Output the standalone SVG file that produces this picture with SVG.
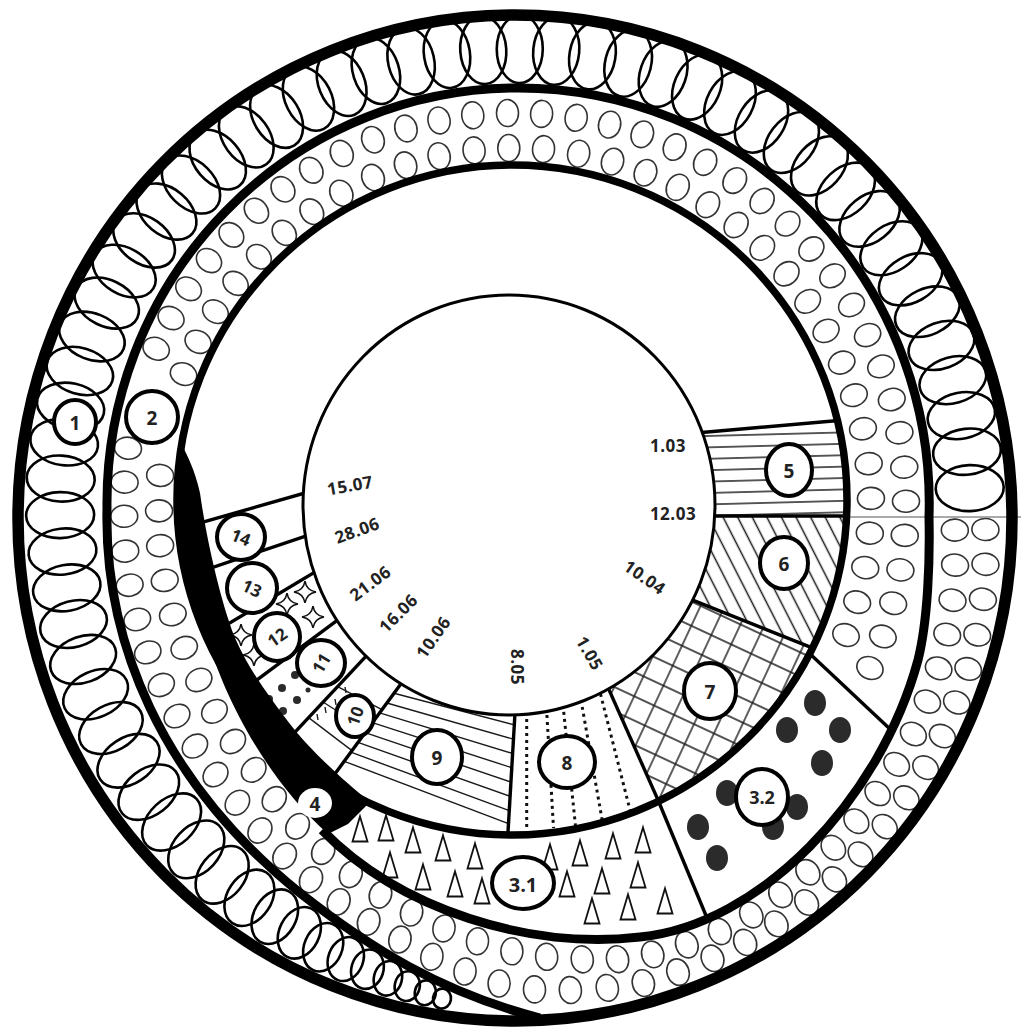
<svg xmlns="http://www.w3.org/2000/svg" width="1021" height="1032" viewBox="0 0 1021 1032">
<defs>
<style>
.r1{fill:none;stroke:#000;stroke-width:2.6}
.r2{fill:none;stroke:#333;stroke-width:1.6}
.thick{fill:none;stroke:#000}
.rad{stroke:#000;stroke-width:3.4;fill:none}
.hat{stroke:#1a1a1a;stroke-width:1.4;fill:none}
.dot{fill:#2b2b2b}
.tri{fill:none;stroke:#111;stroke-width:1.8}
.star{fill:none;stroke:#111;stroke-width:1.6}
.lc{fill:#fff;stroke:#000;stroke-width:4}
.lt{font-family:"Open Sans","Liberation Sans",Arial,sans-serif;font-weight:700;font-size:19px;fill:#222;text-anchor:middle;dominant-baseline:central}
.ls{font-size:17px}
.dt{font-family:"Open Sans","Liberation Sans",Arial,sans-serif;font-weight:700;font-size:17px;fill:#222;text-anchor:middle;dominant-baseline:central;letter-spacing:0.5px}
</style>
<ellipse id="e1" cx="515" cy="49" rx="23" ry="34"/>
<ellipse id="a1" cx="515" cy="148" rx="11" ry="13.5"/>
<ellipse id="a2" cx="515" cy="113" rx="11" ry="13.5"/>
<ellipse id="c2" cx="515" cy="504" rx="11" ry="13.5"/>
<path id="tri" d="M0 -12.5 L7.5 12.5 L-7.5 12.5 Z"/>
<path id="star" d="M0 -11 Q1.5 -1.5 11 0 Q1.5 1.5 0 11 Q-1.5 1.5 -11 0 Q-1.5 -1.5 0 -11 Z"/>
<pattern id="p5" patternUnits="userSpaceOnUse" x="0" y="442" width="60" height="11.4" patternTransform="rotate(-1.5)"><line x1="0" y1="1" x2="60" y2="1" class="hat"/></pattern>
<pattern id="p6" patternUnits="userSpaceOnUse" width="40" height="13" patternTransform="rotate(63)"><line x1="0" y1="6.5" x2="40" y2="6.5" class="hat"/></pattern>
<pattern id="p7" patternUnits="userSpaceOnUse" width="22" height="22" patternTransform="rotate(25)"><path d="M0 11 H22 M11 0 V22" class="hat"/></pattern>
<clipPath id="ann"><path clip-rule="evenodd" d="M847 500 A335 335 0 1 0 177 500 A335 335 0 1 0 847 500 Z M715 505 A206 210 0 1 0 303 505 A206 210 0 1 0 715 505 Z"/></clipPath>
<clipPath id="w8"><polygon points="595.6,659.6 672.4,832.4 505.9,867.7 517.1,677.3"/></clipPath>
<clipPath id="w9"><polygon points="517.1,677.3 505.9,867.7 322,791.6 418,660.4"/></clipPath>
<clipPath id="w10"><polygon points="418,660.4 322,791.6 279.6,748.6 372.4,649.4"/></clipPath>
</defs>
<rect width="1021" height="1032" fill="#fff"/>

<g id="ring1" class="r1">
<use href="#e1" transform="rotate(88 515 504)"/>
<use href="#e1" transform="rotate(83.4 515 504)"/>
<use href="#e1" transform="rotate(78.8 515 504)"/>
<use href="#e1" transform="rotate(74.2 515 504)"/>
<use href="#e1" transform="rotate(69.6 515 504)"/>
<use href="#e1" transform="rotate(65 515 504)"/>
<use href="#e1" transform="rotate(60.4 515 504)"/>
<use href="#e1" transform="rotate(55.8 515 504)"/>
<use href="#e1" transform="rotate(51.2 515 504)"/>
<use href="#e1" transform="rotate(46.6 515 504)"/>
<use href="#e1" transform="rotate(42 515 504)"/>
<use href="#e1" transform="rotate(37.4 515 504)"/>
<use href="#e1" transform="rotate(32.8 515 504)"/>
<use href="#e1" transform="rotate(28.2 515 504)"/>
<use href="#e1" transform="rotate(23.6 515 504)"/>
<use href="#e1" transform="rotate(19 515 504)"/>
<use href="#e1" transform="rotate(14.4 515 504)"/>
<use href="#e1" transform="rotate(9.8 515 504)"/>
<use href="#e1" transform="rotate(5.2 515 504)"/>
<use href="#e1" transform="rotate(0.6 515 504)"/>
<use href="#e1" transform="rotate(-4 515 504)"/>
<use href="#e1" transform="rotate(-8.6 515 504)"/>
<use href="#e1" transform="rotate(-13.2 515 504)"/>
<use href="#e1" transform="rotate(-17.8 515 504)"/>
<use href="#e1" transform="rotate(-22.4 515 504)"/>
<use href="#e1" transform="rotate(-27 515 504)"/>
<use href="#e1" transform="rotate(-31.6 515 504)"/>
<use href="#e1" transform="rotate(-36.2 515 504)"/>
<use href="#e1" transform="rotate(-40.8 515 504)"/>
<use href="#e1" transform="rotate(-45.4 515 504)"/>
<use href="#e1" transform="rotate(-50 515 504)"/>
<use href="#e1" transform="rotate(-54.6 515 504)"/>
<use href="#e1" transform="rotate(-59.2 515 504)"/>
<use href="#e1" transform="rotate(-63.8 515 504)"/>
<use href="#e1" transform="rotate(-68.4 515 504)"/>
<use href="#e1" transform="rotate(-73 515 504)"/>
<use href="#e1" transform="rotate(-77.6 515 504)"/>
<use href="#e1" transform="rotate(-82.2 515 504)"/>
<use href="#e1" transform="rotate(-86.8 515 504)"/>
<use href="#e1" transform="rotate(-91.4 515 504)"/>
<use href="#e1" transform="rotate(-96 515 504)"/>
<use href="#e1" transform="rotate(-100.6 515 504) translate(0 -1)"/>
<use href="#e1" transform="rotate(-105.2 515 504) translate(0 -2.5)"/>
<use href="#e1" transform="rotate(-109.8 515 504) translate(0 -4)"/>
<use href="#e1" transform="rotate(-114.4 515 504) translate(0 -5.5)"/>
<use href="#e1" transform="rotate(-119 515 504) translate(0 -7)"/>
<use href="#e1" transform="rotate(-123.6 515 504) translate(0 -9)"/>
<use href="#e1" transform="rotate(-128.2 515 504) translate(0 -11)"/>
<use href="#e1" transform="rotate(-132.8 515 504) translate(0 -13)"/>
<ellipse cx="515" cy="34" rx="23" ry="33" transform="rotate(-137.3 515 504)"/>
<ellipse cx="515" cy="31.5" rx="22.5" ry="32" transform="rotate(-141.7 515 504)"/>
<ellipse cx="515" cy="29" rx="22" ry="30.5" transform="rotate(-146 515 504)"/>
<ellipse cx="515" cy="26.5" rx="21" ry="29" transform="rotate(-149.8 515 504)"/>
<ellipse cx="515" cy="24" rx="20" ry="27" transform="rotate(-153.3 515 504)"/>
<ellipse cx="515" cy="21" rx="19" ry="25" transform="rotate(-156.6 515 504)"/>
<ellipse cx="515" cy="18.5" rx="17.5" ry="22.5" transform="rotate(-159.6 515 504)"/>
<ellipse cx="515" cy="16" rx="16" ry="20" transform="rotate(-162.4 515 504)"/>
<ellipse cx="515" cy="13" rx="14" ry="17.5" transform="rotate(-165 515 504)"/>
<ellipse cx="515" cy="10" rx="12.5" ry="15" transform="rotate(-167.4 515 504)"/>
<ellipse cx="515" cy="7" rx="10.5" ry="12.5" transform="rotate(-169.6 515 504)"/>
<ellipse cx="515" cy="4" rx="9" ry="10" transform="rotate(-171.6 515 504)"/>
</g>

<g id="ring2" class="r2">
<use href="#a1" transform="rotate(111.6 515 504)"/>
<use href="#a1" transform="rotate(106 515 504)"/>
<use href="#a1" transform="rotate(100.3 515 504)"/>
<use href="#a1" transform="rotate(94.7 515 504)"/>
<use href="#a1" transform="rotate(89.1 515 504)"/>
<use href="#a1" transform="rotate(83.5 515 504)"/>
<use href="#a1" transform="rotate(77.8 515 504)"/>
<use href="#a1" transform="rotate(72.2 515 504)"/>
<use href="#a1" transform="rotate(66.6 515 504)"/>
<use href="#a1" transform="rotate(60.9 515 504)"/>
<use href="#a1" transform="rotate(55.3 515 504)"/>
<use href="#a1" transform="rotate(49.7 515 504)"/>
<use href="#a1" transform="rotate(44 515 504)"/>
<use href="#a1" transform="rotate(38.4 515 504)"/>
<use href="#a1" transform="rotate(32.8 515 504)"/>
<use href="#a1" transform="rotate(27.2 515 504)"/>
<use href="#a1" transform="rotate(21.5 515 504)"/>
<use href="#a1" transform="rotate(15.9 515 504)"/>
<use href="#a1" transform="rotate(10.3 515 504)"/>
<use href="#a1" transform="rotate(4.6 515 504)"/>
<use href="#a1" transform="rotate(-1 515 504)"/>
<use href="#a1" transform="rotate(-6.6 515 504)"/>
<use href="#a1" transform="rotate(-12.3 515 504)"/>
<use href="#a1" transform="rotate(-17.9 515 504)"/>
<use href="#a1" transform="rotate(-23.5 515 504)"/>
<use href="#a1" transform="rotate(-29.2 515 504)"/>
<use href="#a1" transform="rotate(-34.8 515 504)"/>
<use href="#a1" transform="rotate(-40.4 515 504)"/>
<use href="#a1" transform="rotate(-46 515 504)"/>
<use href="#a1" transform="rotate(-51.7 515 504)"/>
<use href="#a1" transform="rotate(-57.3 515 504)"/>
<use href="#a1" transform="rotate(-62.9 515 504)"/>
<use href="#a1" transform="rotate(-68.6 515 504)"/>
<use href="#a1" transform="rotate(-85.4 515 504)"/>
<use href="#a1" transform="rotate(-91.1 515 504)"/>
<use href="#c2" transform="rotate(-96.7 515 504) translate(0 -357.3)"/>
<use href="#c2" transform="rotate(-102.3 515 504) translate(0 -358.5)"/>
<use href="#c2" transform="rotate(-107.9 515 504) translate(0 -359.6)"/>
<use href="#c2" transform="rotate(-113.5 515 504) translate(0 -360.7)"/>
<use href="#c2" transform="rotate(-119.1 515 504) translate(0 -361.8)"/>
<use href="#c2" transform="rotate(-124.6 515 504) translate(0 -365.1)"/>
<use href="#c2" transform="rotate(-130.1 515 504) translate(0 -368.7)"/>
<use href="#c2" transform="rotate(-135.5 515 504) translate(0 -372.8)"/>
<use href="#c2" transform="rotate(-140.8 515 504) translate(0 -380.9)"/>
<use href="#c2" transform="rotate(-146 515 504) translate(0 -388.8)"/>
<use href="#c2" transform="rotate(-151.1 515 504) translate(0 -396.8)"/>
<use href="#c2" transform="rotate(-156.1 515 504) translate(0 -405.2)"/>
<use href="#c2" transform="rotate(-161 515 504) translate(0 -413.3)"/>
<use href="#c2" transform="rotate(-165.8 515 504) translate(0 -421.5)"/>
<use href="#c2" transform="rotate(-170.5 515 504) translate(0 -430.3)"/>
<use href="#c2" transform="rotate(-175.1 515 504) translate(0 -438.9)"/>
<use href="#c2" transform="rotate(-179.6 515 504) translate(0 -447.3)"/>
<use href="#c2" transform="rotate(-184 515 504) translate(0 -453.9)"/>
<use href="#c2" transform="rotate(-188.4 515 504) translate(0 -460.3)"/>
<use href="#c2" transform="rotate(-192.7 515 504) translate(0 -466.6)"/>
<use href="#c2" transform="rotate(-197 515 504) translate(0 -471)"/>
<use href="#c2" transform="rotate(-201.3 515 504) translate(0 -473)"/>
<use href="#c2" transform="rotate(-205.6 515 504) translate(0 -474)"/>
<use href="#c2" transform="rotate(-209.9 515 504) translate(0 -474)"/>
<use href="#c2" transform="rotate(-214.2 515 504) translate(0 -472.5)"/>
<use href="#c2" transform="rotate(-218.5 515 504) translate(0 -470.5)"/>
<use href="#c2" transform="rotate(-222.8 515 504) translate(0 -468.5)"/>
<use href="#c2" transform="rotate(-227.1 515 504) translate(0 -466)"/>
<use href="#c2" transform="rotate(-231.4 515 504) translate(0 -464)"/>
<use href="#c2" transform="rotate(-235.7 515 504) translate(0 -462)"/>
<use href="#c2" transform="rotate(-240 515 504) translate(0 -460)"/>
<use href="#c2" transform="rotate(-244.4 515 504) translate(0 -457.3)"/>
<use href="#c2" transform="rotate(-248.8 515 504) translate(0 -454.4)"/>
<use href="#c2" transform="rotate(-253.2 515 504) translate(0 -451.5)"/>
<use href="#c2" transform="rotate(-257.6 515 504) translate(0 -448)"/>
<use href="#c2" transform="rotate(-262.1 515 504) translate(0 -444.3)"/>
<use href="#c2" transform="rotate(-266.6 515 504) translate(0 -440.6)"/>

<use href="#a2" transform="rotate(114.8 515 504)"/>
<use href="#a2" transform="rotate(109.8 515 504)"/>
<use href="#a2" transform="rotate(104.7 515 504)"/>
<use href="#a2" transform="rotate(99.7 515 504)"/>
<use href="#a2" transform="rotate(94.6 515 504)"/>
<use href="#a2" transform="rotate(89.6 515 504)"/>
<use href="#a2" transform="rotate(84.6 515 504)"/>
<use href="#a2" transform="rotate(79.5 515 504)"/>
<use href="#a2" transform="rotate(74.5 515 504)"/>
<use href="#a2" transform="rotate(69.4 515 504)"/>
<use href="#a2" transform="rotate(64.4 515 504)"/>
<use href="#a2" transform="rotate(59.4 515 504)"/>
<use href="#a2" transform="rotate(54.3 515 504)"/>
<use href="#a2" transform="rotate(49.3 515 504)"/>
<use href="#a2" transform="rotate(44.2 515 504)"/>
<use href="#a2" transform="rotate(39.2 515 504)"/>
<use href="#a2" transform="rotate(34.2 515 504)"/>
<use href="#a2" transform="rotate(29.1 515 504)"/>
<use href="#a2" transform="rotate(24.1 515 504)"/>
<use href="#a2" transform="rotate(19 515 504)"/>
<use href="#a2" transform="rotate(14 515 504)"/>
<use href="#a2" transform="rotate(9 515 504)"/>
<use href="#a2" transform="rotate(3.9 515 504)"/>
<use href="#a2" transform="rotate(-1.1 515 504)"/>
<use href="#a2" transform="rotate(-6.2 515 504)"/>
<use href="#a2" transform="rotate(-11.2 515 504)"/>
<use href="#a2" transform="rotate(-16.2 515 504)"/>
<use href="#a2" transform="rotate(-21.3 515 504)"/>
<use href="#a2" transform="rotate(-26.3 515 504)"/>
<use href="#a2" transform="rotate(-31.4 515 504)"/>
<use href="#a2" transform="rotate(-36.4 515 504)"/>
<use href="#a2" transform="rotate(-41.4 515 504)"/>
<use href="#a2" transform="rotate(-46.5 515 504)"/>
<use href="#a2" transform="rotate(-51.5 515 504)"/>
<use href="#a2" transform="rotate(-56.6 515 504)"/>
<use href="#a2" transform="rotate(-61.6 515 504)"/>
<use href="#a2" transform="rotate(-66.6 515 504)"/>
<use href="#a2" transform="rotate(-81.8 515 504)"/>
<use href="#a2" transform="rotate(-86.8 515 504)"/>
<use href="#a2" transform="rotate(-91.8 515 504)"/>
<use href="#c2" transform="rotate(-96.9 515 504) translate(0 -392.6)"/>
<use href="#c2" transform="rotate(-101.9 515 504) translate(0 -393.8)"/>
<use href="#c2" transform="rotate(-107 515 504) translate(0 -395)"/>
<use href="#c2" transform="rotate(-112 515 504) translate(0 -396.1)"/>
<use href="#c2" transform="rotate(-117.1 515 504) translate(0 -397.3)"/>
<use href="#c2" transform="rotate(-122.1 515 504) translate(0 -399)"/>
<use href="#c2" transform="rotate(-127.1 515 504) translate(0 -401.3)"/>
<use href="#c2" transform="rotate(-132.1 515 504) translate(0 -403.6)"/>
<use href="#c2" transform="rotate(-137.1 515 504) translate(0 -407.8)"/>
<use href="#c2" transform="rotate(-142 515 504) translate(0 -414.3)"/>
<use href="#c2" transform="rotate(-146.8 515 504) translate(0 -420.7)"/>
<use href="#c2" transform="rotate(-151.5 515 504) translate(0 -427.5)"/>
<use href="#c2" transform="rotate(-156.1 515 504) translate(0 -435.2)"/>
<use href="#c2" transform="rotate(-160.7 515 504) translate(0 -442.8)"/>
<use href="#c2" transform="rotate(-165.2 515 504) translate(0 -450.5)"/>
<use href="#c2" transform="rotate(-169.6 515 504) translate(0 -460.4)"/>
<use href="#c2" transform="rotate(-173.9 515 504) translate(0 -470.2)"/>
<use href="#c2" transform="rotate(-178.1 515 504) translate(0 -479.7)"/>
<use href="#c2" transform="rotate(-182.3 515 504) translate(0 -485.8)"/>
<use href="#c2" transform="rotate(-186.5 515 504) translate(0 -489.2)"/>
<use href="#c2" transform="rotate(-190.8 515 504) translate(0 -492.6)"/>
<use href="#c2" transform="rotate(-195 515 504) translate(0 -496)"/>
<use href="#c2" transform="rotate(-199.2 515 504) translate(0 -495.7)"/>
<use href="#c2" transform="rotate(-203.5 515 504) translate(0 -495.4)"/>
<use href="#c2" transform="rotate(-207.7 515 504) translate(0 -495.2)"/>
<use href="#c2" transform="rotate(-211.9 515 504) translate(0 -494.6)"/>
<use href="#c2" transform="rotate(-216.2 515 504) translate(0 -493.8)"/>
<use href="#c2" transform="rotate(-220.4 515 504) translate(0 -492.9)"/>
<use href="#c2" transform="rotate(-224.6 515 504) translate(0 -492.1)"/>
<use href="#c2" transform="rotate(-228.9 515 504) translate(0 -490.7)"/>
<use href="#c2" transform="rotate(-233.1 515 504) translate(0 -489.4)"/>
<use href="#c2" transform="rotate(-237.3 515 504) translate(0 -488)"/>
<use href="#c2" transform="rotate(-241.5 515 504) translate(0 -486.3)"/>
<use href="#c2" transform="rotate(-245.8 515 504) translate(0 -484.3)"/>
<use href="#c2" transform="rotate(-250 515 504) translate(0 -482.3)"/>
<use href="#c2" transform="rotate(-254.2 515 504) translate(0 -480.4)"/>
<use href="#c2" transform="rotate(-258.5 515 504) translate(0 -477.5)"/>
<use href="#c2" transform="rotate(-262.7 515 504) translate(0 -474.3)"/>
<use href="#c2" transform="rotate(-266.9 515 504) translate(0 -471.1)"/>
</g>

<g id="segments" clip-path="url(#ann)">
<polygon id="seg5" points="670.5,435.3 870.5,417.7 885.5,516 685.5,516" fill="url(#p5)"/>
<polygon id="seg6" points="685.5,516 885.5,516 843,660.2 667,589.8" fill="url(#p6)"/>
<polygon id="seg7" points="667,589.8 843,660.2 672.4,832.4 595.6,659.6" fill="url(#p7)"/>
<g id="seg8" clip-path="url(#w8)" stroke="#111" stroke-width="3" stroke-dasharray="3 4" fill="none">
<line x1="526.7" y1="712" x2="526.7" y2="828"/>
<line x1="546.5" y1="708" x2="553.5" y2="828"/>
<line x1="563" y1="705" x2="575.5" y2="826"/>
<line x1="581" y1="700" x2="602.5" y2="822"/>
<line x1="600.5" y1="694" x2="631" y2="814"/>
</g>
<g id="seg9" clip-path="url(#w9)" class="hat">
<line x1="394" y1="693.2" x2="514.3" y2="724.9"/>
<line x1="386.8" y1="703" x2="513.5" y2="739.2"/>
<line x1="379.6" y1="712.9" x2="512.6" y2="753.5"/>
<line x1="372.4" y1="722.7" x2="511.8" y2="767.7"/>
<line x1="365.2" y1="732.6" x2="510.9" y2="782"/>
<line x1="358" y1="742.4" x2="510.1" y2="796.3"/>
<line x1="350.8" y1="752.2" x2="509.3" y2="810.6"/>
<line x1="344.2" y1="761.3" x2="508.5" y2="823.7"/>
</g>
<g id="seg10" clip-path="url(#w10)" class="hat">
<line x1="337.6" y1="686.6" x2="382" y2="709.6"/>
<line x1="323" y1="702" x2="367" y2="730"/>
<line x1="308.6" y1="717.6" x2="352" y2="750.6"/>
<line x1="317" y1="714" x2="318" y2="720"/>
<line x1="325" y1="707" x2="326" y2="713"/>
<line x1="335" y1="699" x2="336" y2="705"/>
<line x1="345" y1="687" x2="346" y2="693"/>
</g>
<g id="seg11" class="dot">
<circle cx="295" cy="675" r="4"/>
<circle cx="282" cy="688" r="4"/>
<circle cx="297" cy="700" r="4"/>
<circle cx="269" cy="699" r="4"/>
<circle cx="283" cy="711" r="4"/>
<circle cx="308" cy="690" r="2.5"/>
</g>
<g id="seg12" class="star">
<use href="#star" x="305" y="592"/>
<use href="#star" x="287" y="604"/>
<use href="#star" x="313" y="617"/>
<use href="#star" x="241" y="635"/>
<use href="#star" x="254" y="655"/>
</g>
<g id="radials" class="rad">
<line x1="670.5" y1="435.3" x2="870.5" y2="417.7"/>
<line x1="685.5" y1="516" x2="885.5" y2="516"/>
<line x1="667" y1="589.8" x2="843" y2="660.2"/>
<line x1="595.6" y1="659.6" x2="672.4" y2="832.4"/>
<line x1="517.1" y1="677.3" x2="505.9" y2="867.7"/>
<line x1="418" y1="660.4" x2="322" y2="791.6"/>
<line x1="372.4" y1="649.4" x2="279.6" y2="748.6"/>
<line x1="358.4" y1="604.6" x2="233.6" y2="697.4"/>
<line x1="336.1" y1="559.4" x2="196.9" y2="642.6"/>
<line x1="332.4" y1="527.1" x2="175.6" y2="579.9"/>
<line x1="336.5" y1="484" x2="168.5" y2="532"/>
</g>
</g>

<g id="seg3-1" class="tri">
<use href="#tri" x="360" y="829"/>
<use href="#tri" x="386" y="828"/>
<use href="#tri" x="413" y="840"/>
<use href="#tri" x="443" y="848"/>
<use href="#tri" x="475" y="856"/>
<use href="#tri" x="550" y="857"/>
<use href="#tri" x="580" y="853"/>
<use href="#tri" x="613" y="846"/>
<use href="#tri" x="643" y="840"/>
<use href="#tri" x="390" y="865"/>
<use href="#tri" x="423" y="877"/>
<use href="#tri" x="455" y="884"/>
<use href="#tri" x="482" y="891"/>
<use href="#tri" x="567" y="884"/>
<use href="#tri" x="602" y="881"/>
<use href="#tri" x="638" y="875"/>
<use href="#tri" x="592" y="911"/>
<use href="#tri" x="628" y="907"/>
<use href="#tri" x="665" y="901"/>
</g>

<g id="seg3-2" class="dot">
<ellipse cx="815" cy="703" rx="11" ry="13"/>
<ellipse cx="787" cy="730" rx="11" ry="13"/>
<ellipse cx="840" cy="730" rx="11" ry="13"/>
<ellipse cx="822" cy="763" rx="11" ry="13"/>
<ellipse cx="727" cy="793" rx="11" ry="13"/>
<ellipse cx="797" cy="807" rx="11" ry="13"/>
<ellipse cx="773" cy="827" rx="11" ry="13"/>
<ellipse cx="698" cy="827" rx="11" ry="13"/>
<ellipse cx="717" cy="858" rx="11" ry="13"/>
</g>

<line id="splice" x1="849" y1="517" x2="1021" y2="517" stroke="#8c8c8c" stroke-width="1.3"/>

<g id="connectors" class="rad">
<line x1="808" y1="652" x2="891" y2="730"/>
<line x1="658" y1="800" x2="707" y2="918"/>
</g>

<g id="rings" class="thick">
<ellipse id="outer" cx="515" cy="518" rx="497" ry="503" stroke-width="11.5"/>
<path id="spiral" d="M322 830 C400 910 530 950 640 937 C760 925 880 800 918 660 C928 620 930 560 929 517 A411 415 0 0 0 518 88 A411 415 0 0 0 107 508 C104 640 160 780 300 893 C370 948 440 992 540 1018" stroke-width="9"/>
<circle id="ringC" cx="512" cy="500" r="335" stroke-width="7.5"/>
<ellipse id="inner" cx="509" cy="505" rx="206" ry="210" stroke-width="3"/>
</g>
<path id="crescent" fill="#000" d="M182 445 A335 335 0 0 0 208 640 C222 690 262 775 328 834 L348 824 L370 802 C345 782 310 750 290 724 C270 698 248 668 236 640 C224 612 208 550 200 493 C195 470 187 455 182 445 Z"/>

<g id="labels">
<g id="n1"><ellipse class="lc" cx="75" cy="422" rx="21" ry="22"/><text class="lt" x="75" y="423">1</text></g>
<g id="n2"><ellipse class="lc" cx="152" cy="417" rx="26" ry="26"/><text class="lt" x="152" y="418">2</text></g>
<g id="n4"><ellipse cx="315" cy="803" rx="17" ry="15" fill="#fff"/><text class="lt" x="315" y="804">4</text></g>
<g id="n5"><ellipse class="lc" cx="789" cy="470" rx="23" ry="26"/><text class="lt" x="789" y="471">5</text></g>
<g id="n6"><ellipse class="lc" cx="784" cy="563" rx="24" ry="26"/><text class="lt" x="784" y="564">6</text></g>
<g id="n7"><ellipse class="lc" cx="710" cy="691" rx="26" ry="28"/><text class="lt" x="710" y="692">7</text></g>
<g id="n8"><ellipse class="lc" cx="567" cy="762" rx="28" ry="26"/><text class="lt" x="567" y="763">8</text></g>
<g id="n9"><ellipse class="lc" cx="437" cy="757" rx="25" ry="27"/><text class="lt" x="437" y="758">9</text></g>
<g id="n10"><ellipse class="lc" cx="355" cy="716" rx="19" ry="21"/><text class="lt ls" transform="translate(355 716) rotate(-70)">10</text></g>
<g id="n11"><ellipse class="lc" cx="321" cy="663" rx="24" ry="23"/><text class="lt ls" transform="translate(321 663) rotate(-60)">11</text></g>
<g id="n12"><ellipse class="lc" cx="277" cy="637" rx="23" ry="24"/><text class="lt ls" transform="translate(277 637) rotate(-35)">12</text></g>
<g id="n13"><ellipse class="lc" cx="252" cy="588" rx="25" ry="25"/><text class="lt ls" transform="translate(252 588) rotate(25)">13</text></g>
<g id="n14"><ellipse class="lc" cx="241" cy="537" rx="24" ry="23"/><text class="lt ls" transform="translate(241 537) rotate(22)">14</text></g>
<g id="n31"><ellipse class="lc" cx="523" cy="883" rx="31" ry="26"/><text class="lt" x="523" y="884" style="font-size:20px">3.1</text></g>
<g id="n32"><ellipse class="lc" cx="762" cy="797" rx="26" ry="28"/><text class="lt" x="762" y="797" style="font-size:18px">3.2</text></g>
</g>

<g id="dates">
<text class="dt" transform="translate(668 445)">1.03</text>
<text class="dt" transform="translate(673 513)">12.03</text>
<text class="dt" transform="translate(645 577) rotate(35)">10.04</text>
<text class="dt" transform="translate(590 653) rotate(60)">1.05</text>
<text class="dt" transform="translate(517 667) rotate(90)">8.05</text>
<text class="dt" transform="translate(433 637) rotate(-55)">10.06</text>
<text class="dt" transform="translate(398 613) rotate(-45)">16.06</text>
<text class="dt" transform="translate(370 583) rotate(-37)">21.06</text>
<text class="dt" transform="translate(357 530) rotate(-20)">28.06</text>
<text class="dt" transform="translate(350 485) rotate(-10)">15.07</text>
</g>
</svg>
